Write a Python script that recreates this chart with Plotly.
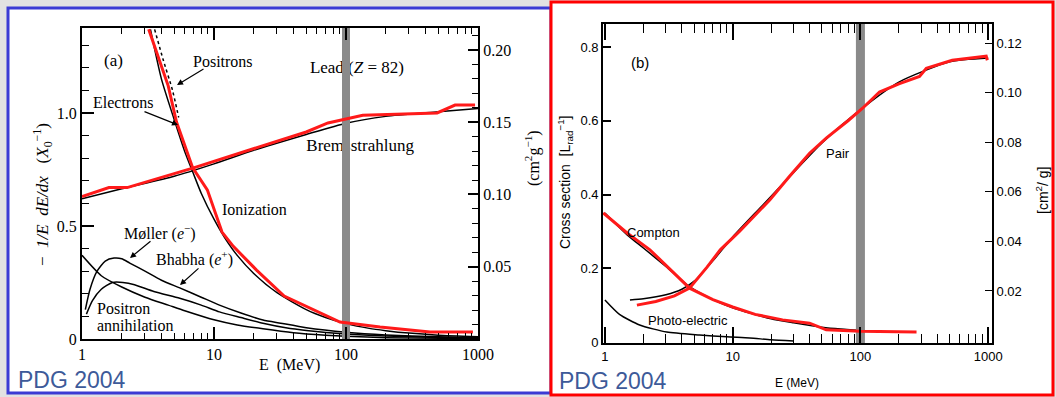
import plotly.graph_objects as go

W, H = 1056, 397

# ---------------- Panel (a): fractional energy loss in lead ----------------
brems_black_E = [1, 2, 5, 10, 20, 50, 100, 200, 500, 1000]
brems_black_val = [0.62, 0.665, 0.72, 0.775, 0.835, 0.905, 0.955, 0.985, 1.005, 1.02]

brems_red_E = [1, 1.6, 2.2, 7, 22, 50, 73, 134, 490, 670, 950]
brems_red_val = [0.63, 0.67, 0.67, 0.757, 0.85, 0.916, 0.956, 0.99, 1.0, 1.035, 1.035]

ion_black_E = [3.3, 4, 5, 6, 7, 8, 10, 12, 15, 20, 30, 50, 70, 100, 150, 200, 300, 500, 1000]
ion_black_val = [1.37, 1.15, 0.97, 0.83, 0.73, 0.645, 0.53, 0.45, 0.37, 0.29, 0.205, 0.13,
                 0.095, 0.068, 0.047, 0.037, 0.026, 0.017, 0.01]

positron_E = [3.55, 4.1, 4.85, 5.4]
positron_val = [1.37, 1.24, 1.1, 0.98]

ion_red_E = [3.2, 4.5, 5.2, 6.9, 8.9, 11.5, 14, 21, 34, 90, 181, 433, 915]
ion_red_val = [1.37, 1.12, 0.96, 0.757, 0.66, 0.473, 0.41, 0.305, 0.19, 0.075, 0.053, 0.031, 0.031]

moller_E = [1.06, 1.15, 1.3, 1.5, 1.75, 2.0, 2.3, 3, 4, 5.5, 8, 11, 16, 23.5, 32, 50, 100, 200, 500, 1000]
moller_val = [0.13, 0.22, 0.3, 0.345, 0.358, 0.355, 0.336, 0.30, 0.26, 0.226, 0.185, 0.15, 0.115,
              0.084, 0.07, 0.05, 0.03, 0.018, 0.01, 0.006]

bhabha_E = [1.08, 1.2, 1.4, 1.7, 2.04, 2.5, 3.5, 5.5, 8, 11, 16, 23.5, 35, 50, 100, 200, 500, 1000]
bhabha_val = [0.11, 0.17, 0.22, 0.25, 0.25, 0.24, 0.21, 0.18, 0.15, 0.12, 0.095, 0.07, 0.05,
              0.038, 0.022, 0.013, 0.007, 0.004]

annih_E = [1, 1.4, 2, 3, 4.5, 6, 10, 15, 23.5, 40, 70, 100, 200, 1000]
annih_val = [0.37, 0.28, 0.23, 0.185, 0.15, 0.125, 0.085, 0.062, 0.045, 0.028, 0.017, 0.012, 0.006, 0.0015]

# ---------------- Panel (b): photon cross sections in lead ----------------
compton_black_E = [1, 1.5, 2, 3, 4.6, 7, 10, 20, 30, 50, 70, 115]
compton_black_val = [0.35, 0.29, 0.255, 0.205, 0.15, 0.115, 0.093, 0.063, 0.052, 0.04, 0.035, 0.03]

compton_red_E = [0.97, 1.5, 2.25, 3.2, 4.6, 7, 10, 15, 24.6, 40, 54, 100, 275]
compton_red_val = [0.35, 0.295, 0.25, 0.2, 0.146, 0.115, 0.095, 0.075, 0.06, 0.051, 0.033, 0.029, 0.027]

pair_black_E = [1.57, 2, 3, 4, 5, 7, 10, 15, 20, 30, 50, 100, 200, 500, 1000]
pair_black_val = [0.114, 0.117, 0.128, 0.143, 0.165, 0.22, 0.285, 0.35, 0.395, 0.46, 0.54, 0.63,
                  0.705, 0.76, 0.77]

pair_red_E = [1.78, 2.5, 3.5, 4.6, 6.3, 8, 11.3, 19.5, 28, 40, 54, 80, 104, 141, 200, 255, 290,
              328, 523, 965, 985]
pair_red_val = [0.10, 0.11, 0.125, 0.146, 0.203, 0.25, 0.30, 0.385, 0.45, 0.512, 0.553, 0.60,
                0.634, 0.678, 0.70, 0.712, 0.72, 0.742, 0.764, 0.775, 0.764]

photo_E = [1, 1.3, 1.87, 3.05, 5.5, 9, 13.6, 20, 30]
photo_val = [0.114, 0.075, 0.046, 0.027, 0.019, 0.014, 0.011, 0.006, 0.003]

marker_energy = 100  # highlighted energy (MeV)

# axis ticks
x_ticks = [1, 10, 100, 1000]
x_ticktext = ["1", "10", "100", "1000"]
x_minor = [m * 10 ** k for k in range(0, 3) for m in range(2, 10)]
ya_ticks = [0, 0.5, 1.0]
ya_ticktext = ["0", "0.5", "1.0"]
ya_minor = [round(0.1 * i, 2) for i in range(1, 14)]
ya2_ticks = [0.05, 0.10, 0.15, 0.20]
ya2_ticktext = ["0.05", "0.10", "0.15", "0.20"]
ya2_minor = [round(0.01 * i, 3) for i in range(1, 22)]
yb_ticks = [0, 0.2, 0.4, 0.6, 0.8]
yb_ticktext = ["0", "0.2", "0.4", "0.6", "0.8"]
yb2_ticks = [0.02, 0.04, 0.06, 0.08, 0.10, 0.12]
yb2_ticktext = ["0.02", "0.04", "0.06", "0.08", "0.10", "0.12"]

ya_range = [0, 1.376]
ya2_range = [0, 0.2152]
yb_range = [-0.0027, 0.8624]
yb2_range = [-0.001, 0.1277]

SERIF = "Liberation Serif"
SANS = "Liberation Sans"
RED = "#ff1a1a"
BAR = "#8a8a8a"

fig = go.Figure()


def line(x, y, xa, ya, color="black", width=1.5, dash=None, shape="spline"):
    fig.add_trace(go.Scatter(x=x, y=y, xaxis=xa, yaxis=ya, mode="lines",
                             line=dict(color=color, width=width, dash=dash, shape=shape,
                                       smoothing=0.6 if shape == "spline" else None),
                             hoverinfo="skip", showlegend=False))


# ---- panel a: black curves
line(brems_black_E, brems_black_val, "x", "y")
line(ion_black_E, ion_black_val, "x", "y")
line(positron_E, positron_val, "x", "y", dash="dot", width=1.5)
line(moller_E, moller_val, "x", "y")
line(bhabha_E, bhabha_val, "x", "y")
line(annih_E, annih_val, "x", "y")
# labels that are hidden behind the grey bar
fig.add_trace(go.Scatter(x=[121, 128], y=[1.195, 0.85], xaxis="x", yaxis="y", mode="text",
                         text=["Lead (<i>Z</i> = 82)", "Bremsstrahlung"],
                         textfont=dict(family=SERIF, size=17, color="black"),
                         textposition="middle center", hoverinfo="skip", showlegend=False))
# grey bar
fig.add_trace(go.Scatter(x=[marker_energy, marker_energy], y=ya_range, xaxis="x", yaxis="y",
                         mode="lines", line=dict(color=BAR, width=8), hoverinfo="skip",
                         showlegend=False))
# red curves
line(brems_red_E, brems_red_val, "x", "y", color=RED, width=3, shape="linear")
line(ion_red_E, ion_red_val, "x", "y", color=RED, width=3, shape="linear")
fig.add_trace(go.Scatter(x=[], y=[], xaxis="x", yaxis="y2", showlegend=False))

# ---- panel b
line(compton_black_E, compton_black_val, "x2", "y3")
line(pair_black_E, pair_black_val, "x2", "y3")
line(photo_E, photo_val, "x2", "y3")
fig.add_trace(go.Scatter(x=[marker_energy, marker_energy], y=yb_range, xaxis="x2", yaxis="y3",
                         mode="lines", line=dict(color=BAR, width=9), hoverinfo="skip",
                         showlegend=False))
line(compton_red_E, compton_red_val, "x2", "y3", color=RED, width=3, shape="linear")
line(pair_red_E, pair_red_val, "x2", "y3", color=RED, width=3, shape="linear")
fig.add_trace(go.Scatter(x=[], y=[], xaxis="x2", yaxis="y4", showlegend=False))


def P(px, py):
    return px / W, 1 - py / H


def dom_x(a, b):
    return [a / W, b / W]


def dom_y(top, bottom):
    return [1 - bottom / H, 1 - top / H]


base = dict(showgrid=False, zeroline=False, showline=True, linecolor="black", ticks="inside",
            tickcolor="black", automargin=False)

serif_tick = dict(family=SERIF, size=16, color="black")
sans_tick = dict(family=SANS, size=13, color="black")

fig.update_layout(
    width=W, height=H, autosize=False,
    margin=dict(l=0, r=0, t=0, b=0, pad=0, autoexpand=False),
    paper_bgcolor="#e2e2e2", plot_bgcolor="white",
    showlegend=False,
    xaxis=dict(base, domain=dom_x(82, 478), type="log", range=[0, 3], anchor="y",
               mirror="ticks", linewidth=2, tickvals=x_ticks, ticktext=x_ticktext,
               ticklen=12, tickwidth=1.5, tickfont=serif_tick,
               minor=dict(tickvals=x_minor, ticks="inside", ticklen=6, tickcolor="black",
                          tickwidth=1.2, showgrid=False)),
    yaxis=dict(base, domain=dom_y(28, 339), range=ya_range, anchor="x", linewidth=2,
               tickvals=ya_ticks, ticktext=ya_ticktext, ticklen=12, tickwidth=1.5,
               tickfont=serif_tick,
               minor=dict(tickvals=ya_minor, ticks="inside", ticklen=7, tickcolor="black",
                          tickwidth=1.2, showgrid=False)),
    yaxis2=dict(base, overlaying="y", side="right", anchor="x", range=ya2_range, linewidth=2,
                tickvals=ya2_ticks, ticktext=ya2_ticktext, ticklen=10, tickwidth=1.5,
                tickfont=serif_tick,
                minor=dict(tickvals=ya2_minor, ticks="inside", ticklen=6, tickcolor="black",
                           tickwidth=1.2, showgrid=False)),
    xaxis2=dict(base, domain=dom_x(603, 992), type="log", range=[-0.015, 3.03], anchor="y3",
                mirror="ticks", linewidth=1.8, tickvals=x_ticks, ticktext=x_ticktext,
                ticklen=16, tickwidth=1.5, tickfont=sans_tick,
                minor=dict(tickvals=x_minor, ticks="inside", ticklen=9, tickcolor="black",
                           tickwidth=1.3, showgrid=False)),
    yaxis3=dict(base, domain=dom_y(24, 343), range=yb_range, anchor="x2", linewidth=1.8,
                tickvals=yb_ticks, ticktext=yb_ticktext, ticklen=8, tickwidth=1.5,
                tickfont=sans_tick),
    yaxis4=dict(base, overlaying="y3", side="right", anchor="x2", range=yb2_range,
                linewidth=1.8, tickvals=yb2_ticks, ticktext=yb2_ticktext, ticklen=7,
                tickwidth=1.3, tickfont=sans_tick),
)

# frames and backgrounds
shapes = []
x0, y0 = P(8, 393)
x1, y1 = P(551, 8)
shapes.append(dict(type="rect", xref="paper", yref="paper", x0=x0, y0=y0, x1=x1, y1=y1,
                   fillcolor="white", line=dict(color="#3b3bd4", width=3), layer="below"))
x0, y0 = P(551, 395)
x1, y1 = P(1053, 2)
shapes.append(dict(type="rect", xref="paper", yref="paper", x0=x0, y0=y0, x1=x1, y1=y1,
                   fillcolor="white", line=dict(color="#ff0000", width=3), layer="below"))
fig.update_layout(shapes=shapes)

annotations = []


def text(s, px, py, family, size, angle=0, color="black", xanchor="center"):
    x, y = P(px, py)
    annotations.append(dict(text=s, x=x, y=y, xref="paper", yref="paper", showarrow=False,
                            xanchor=xanchor, yanchor="middle", textangle=angle,
                            font=dict(family=family, size=size, color=color)))


def arrow(tail, tip):
    x, y = P(*tip)
    annotations.append(dict(text="", x=x, y=y, xref="paper", yref="paper", showarrow=True,
                            ax=tail[0] - tip[0], ay=tail[1] - tip[1], arrowhead=2,
                            arrowsize=1, arrowwidth=1.2, arrowcolor="black"))


# panel a texts
text("(a)", 113, 60, SERIF, 17)
text("Positrons", 223, 61, SERIF, 16)
arrow((205, 68), (177, 85))
text("Electrons", 123, 102, SERIF, 16)
arrow((143, 111), (178, 125))
text("Ionization", 254, 209, SERIF, 16)
text("Møller (<i>e</i><sup>−</sup>)", 160, 232, SERIF, 16)
arrow((152, 240), (130, 258))
text("Bhabha (<i>e</i><sup>+</sup>)", 194, 258, SERIF, 16)
arrow((200, 267), (180, 285))
text("Positron", 123, 308, SERIF, 16)
text("annihilation", 135, 325, SERIF, 16)
text("E  (MeV)", 289, 365, SERIF, 16)
text("−  <i>1/E</i>  <i>dE/dx</i>   (<i>X</i><sub>0</sub><sup>−1</sup>)", 42, 195, SERIF, 17,
     angle=-90)
text("(cm<sup>2</sup>g<sup>−1</sup>)", 532, 158, SERIF, 16, angle=-90)
text("PDG 2004", 72, 380, SANS, 23, color="#3d5a99")

# panel b texts
text("(b)", 640, 63, SANS, 15)
text("Pair", 838, 153, SANS, 13)
text("Compton", 653, 232, SANS, 13)
text("Photo-electric", 688, 320, SANS, 13)
text("E (MeV)", 797, 383, SANS, 12)
text("Cross section  [L<sub>rad</sub><sup>−1</sup>]", 565, 182, SANS, 14, angle=-90)
text("[cm<sup>2</sup>/ g]", 1042, 191, SANS, 14, angle=-90)
text("PDG 2004", 613, 381, SANS, 23, color="#3d5a99")

fig.update_layout(annotations=annotations)

fig.write_html(
    "out.html",
    config={"displayModeBar": False},
    post_script="document.body.style.margin='0';document.body.style.overflow='hidden';"
                "document.documentElement.style.overflow='hidden';",
)
